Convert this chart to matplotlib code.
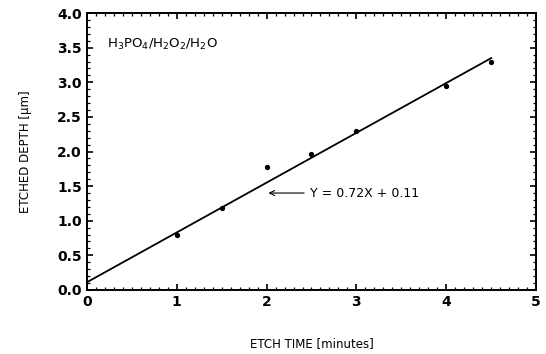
import numpy as np
import matplotlib
matplotlib.use('Agg')
import matplotlib.pyplot as plt
from matplotlib.ticker import MultipleLocator, FormatStrFormatter

# measured etch depths
etch_time = [1.0, 1.5, 2.0, 2.5, 3.0, 4.0, 4.5]
etch_depth = [0.80, 1.18, 1.77, 1.96, 2.30, 2.95, 3.30]

# linear fit shown in the plot
slope = 0.72
intercept = 0.11
fit_x = [0.0, 4.5]

plt.rcParams['font.family'] = ['DejaVu Sans']

fig = plt.figure(figsize=(5.46, 3.54), dpi=100)
ax = fig.add_axes([0.159, 0.181, 0.823, 0.782])

ax.plot(etch_time, etch_depth, 'o', color='k', markersize=2.8)
fx = np.array(fit_x)
ax.plot(fx, slope * fx + intercept, color='k', lw=1.3)

ax.set_xlim(0, 5)
ax.set_ylim(0, 4)
ax.xaxis.set_major_locator(MultipleLocator(1))
ax.xaxis.set_minor_locator(MultipleLocator(0.1))
ax.yaxis.set_major_locator(MultipleLocator(0.5))
ax.yaxis.set_minor_locator(MultipleLocator(0.1))
ax.yaxis.set_major_formatter(FormatStrFormatter('%.1f'))
ax.tick_params(which='both', direction='in', top=True, right=True, labelsize=10)
ax.tick_params(which='major', length=4, width=1.2)
ax.tick_params(which='minor', length=2.5, width=0.9)
for lab in ax.get_xticklabels() + ax.get_yticklabels():
    lab.set_fontweight('semibold')
for s in ax.spines.values():
    s.set_linewidth(1.4)

ax.set_xlabel('ETCH TIME [minutes]', fontsize=8.5, labelpad=20)
ax.set_ylabel('ETCHED DEPTH [\u03bcm]', fontsize=8.5, labelpad=18)

ax.text(0.22, 3.54, 'H$_3$PO$_4$/H$_2$O$_2$/H$_2$O', fontsize=9.5, va='center')
ax.annotate('Y = 0.72X + 0.11', xy=(2.02, 1.40), xytext=(2.48, 1.40),
            fontsize=9, va='center',
            arrowprops=dict(arrowstyle='->', color='k', lw=0.8, shrinkA=2, shrinkB=0))

fig.savefig('out.png', dpi=100)
